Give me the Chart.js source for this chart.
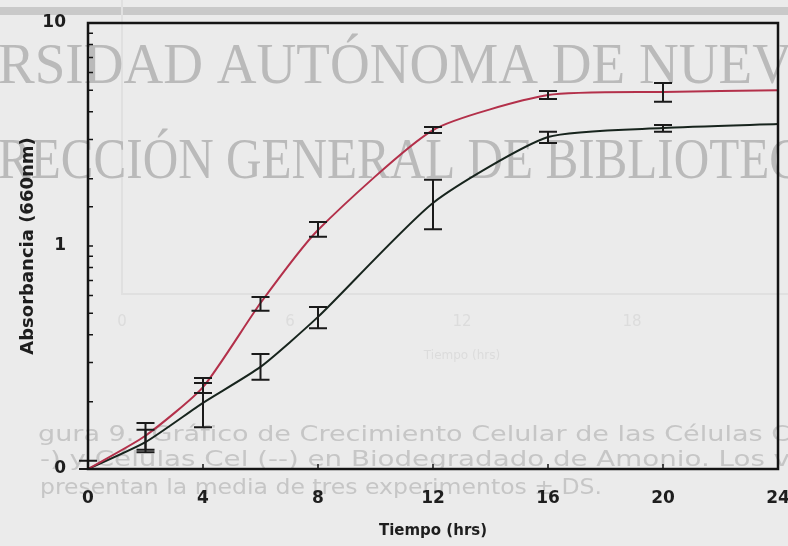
<!DOCTYPE html>
<html lang="es">
<head>
    <meta charset="UTF-8">
    <title>Crecimiento celular - Absorbancia</title>
    <script src="https://cdn.jsdelivr.net/npm/chart.js"></script>
    <style>
        html, body { margin: 0; padding: 0; background: #ebebeb; }
        #grafica { display: block; }
    </style>
</head>
<body>
    <canvas id="grafica" width="788" height="546"></canvas>

    <script>
        // tiempo de muestreo (hrs)
        const horas = [0, 2, 4, 6, 8, 12, 16, 20, 24];

        // curva roja: media y limites de la barra de error (DS)
        const rojo    = [0.100, 0.141, 0.233, 0.555, 1.18, 3.31, 4.75, 4.91, 5.00];
        const rojoMin = [0.100, 0.122, 0.219, 0.512, 1.10, 3.21, 4.56, 4.43, null];
        const rojoMax = [0.109, 0.161, 0.256, 0.590, 1.28, 3.42, 4.95, 5.38, null];

        // curva negra
        const negro    = [0.100, 0.132, 0.198, 0.287, 0.481, 1.56, 3.08, 3.38, 3.52];
        const negroMin = [null, 0.119, 0.154, 0.251, 0.428, 1.19, 2.90, 3.25, null];
        const negroMax = [null, 0.150, 0.243, 0.328, 0.532, 1.98, 3.25, 3.49, null];

        // etiquetas del eje y (log): solo decadas
        const etiquetasY = { '0.1': '0', '1': '1', '10': '10' };

        const fuente = 'DejaVu Sans';

        // escribe un texto estirado o comprimido a un ancho dado
        function textoAncho(ctx, texto, x, y, ancho) {
            const w = ctx.measureText(texto).width;
            ctx.save();
            ctx.translate(x, y);
            ctx.scale(ancho / w, 1);
            ctx.fillText(texto, 0, 0);
            ctx.restore();
        }

        // fondo, textos grises de la hoja y marca de agua
        const fondoHoja = {
            id: 'fondoHoja',
            beforeDraw(chart) {
                const ctx = chart.ctx;
                ctx.save();
                ctx.fillStyle = '#ebebeb';
                ctx.fillRect(0, 0, chart.width, chart.height);
                ctx.fillStyle = '#c9c9c9';
                ctx.fillRect(0, 7, chart.width, 8);

                // grafica de la otra cara de la hoja (muy tenue)
                ctx.strokeStyle = '#e0e0e0';
                ctx.lineWidth = 2;
                ctx.beginPath();
                ctx.moveTo(122, 0); ctx.lineTo(122, 294); ctx.lineTo(788, 294);
                ctx.stroke();
                ctx.fillStyle = '#dcdcdc';
                ctx.font = '15px ' + fuente;
                ctx.textAlign = 'center';
                ctx.textBaseline = 'middle';
                [['0', 122], ['6', 290], ['12', 462], ['18', 632]].forEach(t => ctx.fillText(t[0], t[1], 322));
                ctx.font = '12px ' + fuente;
                ctx.fillText('Tiempo (hrs)', 462, 356);

                // pie de figura
                ctx.fillStyle = '#c6c6c6';
                ctx.font = '21px ' + fuente;
                ctx.textAlign = 'left';
                ctx.textBaseline = 'alphabetic';
                textoAncho(ctx, 'gura 9.  Gráfico de Crecimiento Celular de las Células C', 38, 441, 752);
                textoAncho(ctx, '-) y Células Cel (--) en Biodegradado de Amonio. Los v', 40, 466, 750);
                textoAncho(ctx, 'presentan la media de tres experimentos ± DS.', 40, 494, 562);

                // marca de agua
                ctx.fillStyle = '#bababa';
                ctx.font = '56px "Liberation Serif"';
                ctx.fillText('RSIDAD AUTÓNOMA DE NUEV', -2, 83, 794);
                ctx.fillText('RECCIÓN GENERAL DE BIBLIOTEC', -2, 178, 804);
                ctx.restore();
            }
        };

        // marco del grafico y marcas hacia adentro
        const marco = {
            id: 'marco',
            afterDatasetsDraw(chart) {
                const { ctx, chartArea: a, scales } = chart;
                ctx.save();
                ctx.strokeStyle = '#141414';
                ctx.lineWidth = 2.5;
                ctx.strokeRect(a.left, a.top, a.right - a.left, a.bottom - a.top);
                ctx.lineWidth = 1.5;
                ctx.beginPath();
                scales.y.ticks.forEach(t => {
                    const y = scales.y.getPixelForValue(t.value);
                    ctx.moveTo(a.left, y);
                    ctx.lineTo(a.left + 5, y);
                });
                scales.x.ticks.forEach(t => {
                    const x = scales.x.getPixelForValue(t.value);
                    ctx.moveTo(x, a.bottom);
                    ctx.lineTo(x, a.bottom - 5);
                });
                ctx.stroke();
                ctx.restore();
            }
        };

        // barras de error a partir de los limites de cada serie
        const barrasError = {
            id: 'barrasError',
            afterDatasetsDraw(chart) {
                const { ctx, scales } = chart;
                ctx.save();
                ctx.strokeStyle = '#1a1a1a';
                ctx.lineWidth = 2;
                chart.data.datasets.forEach(ds => {
                    horas.forEach((h, i) => {
                        const lo = ds.errMin[i], hi = ds.errMax[i];
                        if (lo == null || hi == null) return;
                        const x = scales.x.getPixelForValue(h);
                        const y1 = scales.y.getPixelForValue(lo);
                        const y2 = scales.y.getPixelForValue(hi);
                        const w = 9;
                        ctx.beginPath();
                        ctx.moveTo(x, y1); ctx.lineTo(x, y2);
                        ctx.moveTo(x - w, y1); ctx.lineTo(x + w, y1);
                        ctx.moveTo(x - w, y2); ctx.lineTo(x + w, y2);
                        ctx.stroke();
                    });
                });
                ctx.restore();
            }
        };

        const ctx = document.getElementById('grafica').getContext('2d');
        new Chart(ctx, {
            type: 'line',
            data: {
                labels: horas,
                datasets: [
                    {
                        data: rojo,
                        errMin: rojoMin,
                        errMax: rojoMax,
                        borderColor: '#b3304a',
                        borderWidth: 2,
                        pointRadius: 0,
                        tension: 0.2
                    },
                    {
                        data: negro,
                        errMin: negroMin,
                        errMax: negroMax,
                        borderColor: '#17241d',
                        borderWidth: 2,
                        pointRadius: 0,
                        tension: 0.2
                    }
                ]
            },
            options: {
                responsive: false,
                animation: false,
                layout: { padding: { top: 23, right: 10, left: 0, bottom: 0 } },
                plugins: {
                    legend: { display: false },
                    tooltip: { enabled: false }
                },
                scales: {
                    x: {
                        type: 'linear',
                        min: 0,
                        max: 24,
                        grid: { display: false, drawTicks: false },
                        border: { display: false },
                        ticks: {
                            stepSize: 4,
                            padding: 19,
                            color: '#1e1e1e',
                            font: { family: fuente, size: 17, weight: 'bold' }
                        },
                        title: {
                            display: true,
                            text: 'Tiempo (hrs)',
                            color: '#1e1e1e',
                            padding: { top: 0, bottom: 6 },
                            font: { family: fuente, size: 15, weight: 'bold' }
                        },
                        afterFit(s) { s.height = 77; s.paddingLeft = 0; s.paddingRight = 0; }
                    },
                    y: {
                        type: 'logarithmic',
                        min: 0.1,
                        max: 10,
                        grid: { display: false, drawTicks: false },
                        border: { display: false },
                        ticks: {
                            autoSkip: false,
                            padding: 22,
                            color: '#1e1e1e',
                            font: { family: fuente, size: 17, weight: 'bold' },
                            callback(v) {
                                const k = String(Math.round(v * 1000) / 1000);
                                return etiquetasY[k] || '';
                            }
                        },
                        title: {
                            display: true,
                            text: 'Absorbancia (660nm)',
                            color: '#1e1e1e',
                            padding: { top: 18, bottom: 0 },
                            font: { family: fuente, size: 18, weight: 'bold' }
                        },
                        afterFit(s) { s.width = 88; s.paddingTop = 0; s.paddingBottom = 0; }
                    }
                }
            },
            plugins: [fondoHoja, barrasError, marco]
        });
    </script>
</body>
</html>
